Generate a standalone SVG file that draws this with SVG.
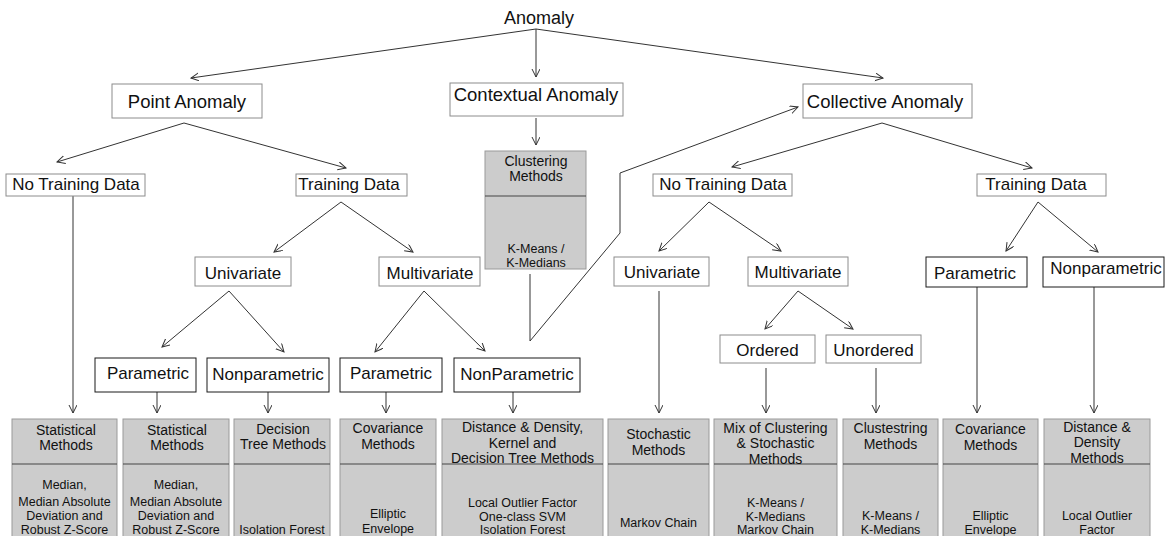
<svg xmlns="http://www.w3.org/2000/svg" width="1169" height="536" viewBox="0 0 1169 536">
<defs>
<marker id="arr" markerUnits="userSpaceOnUse" markerWidth="12" markerHeight="10" refX="8" refY="4" orient="auto">
<path d="M0,0 L8,4 L0,8" fill="none" stroke="#333" stroke-width="1"/>
</marker>
<style>
text{font-family:"Liberation Sans",Arial,sans-serif;fill:#111;text-anchor:middle}
.h0{font-size:18px}
.h1{font-size:18.5px}
.h2{font-size:17px}
.s{font-size:14px}
.m{font-size:12.5px}
.lb{fill:#fff;stroke:#8c8c8c;stroke-width:1}
.db{fill:#fff;stroke:#1a1a1a;stroke-width:1}
.gb{fill:#cccccc;stroke:#9a9a9a;stroke-width:1}
.dv{stroke:#444;stroke-width:1}
.c line,.c polyline{stroke:#333;stroke-width:1;fill:none;marker-end:url(#arr)}
</style>
</defs>
<rect width="1169" height="536" fill="#fff"/>

<g class="c" id="connectors">
<line x1="536" y1="29" x2="191" y2="78"/>
<line x1="536" y1="29" x2="536" y2="77"/>
<line x1="536" y1="29" x2="883" y2="78"/>
<line x1="184" y1="123" x2="57" y2="162"/>
<line x1="184" y1="123" x2="346" y2="168"/>
<line x1="536" y1="118" x2="536" y2="145"/>
<line x1="882" y1="123" x2="732" y2="167"/>
<line x1="882" y1="123" x2="1032" y2="168"/>
<line x1="341" y1="202" x2="274" y2="252"/>
<line x1="341" y1="202" x2="413" y2="252"/>
<line x1="709" y1="202" x2="659" y2="251"/>
<line x1="709" y1="202" x2="781" y2="251"/>
<line x1="1038" y1="202" x2="1006" y2="251"/>
<line x1="1038" y1="202" x2="1098" y2="252"/>
<line x1="229" y1="291" x2="162" y2="347"/>
<line x1="229" y1="291" x2="284" y2="352"/>
<line x1="424" y1="291" x2="375" y2="352"/>
<line x1="424" y1="291" x2="485" y2="351"/>
<line x1="798" y1="291" x2="765" y2="329"/>
<line x1="798" y1="291" x2="853" y2="329"/>
<polyline points="530,274 530,341 620,233 620,173 798,107"/>
<line x1="73" y1="196" x2="73" y2="413"/>
<line x1="157" y1="392" x2="157" y2="413"/>
<line x1="268" y1="392" x2="268" y2="413"/>
<line x1="386" y1="392" x2="386" y2="413"/>
<line x1="513" y1="392" x2="513" y2="413"/>
<line x1="659" y1="291" x2="659" y2="413"/>
<line x1="766" y1="368" x2="766" y2="413"/>
<line x1="876" y1="368" x2="876" y2="413"/>
<line x1="977" y1="287" x2="977" y2="413"/>
<line x1="1094" y1="287" x2="1094" y2="413"/>
</g>

<g id="n-anomaly"><text class="h0" x="539" y="24">Anomaly</text></g>
<g id="n-point"><rect class="lb" x="112" y="84" width="150" height="34"/><text class="h1" x="187" y="108">Point Anomaly</text></g>
<g id="n-contextual"><rect class="lb" x="450" y="83" width="173" height="33"/><text class="h1" x="536" y="101">Contextual Anomaly</text></g>
<g id="n-collective"><rect class="lb" x="803" y="84" width="169" height="34"/><text class="h1" x="885" y="108">Collective Anomaly</text></g>

<g id="n-pt-notrain"><rect class="lb" x="6" y="174" width="139" height="22"/><text class="h2" x="76" y="189.5">No Training Data</text></g>
<g id="n-pt-train"><rect class="lb" x="296" y="174" width="111" height="22"/><text class="h2" x="349" y="189.5">Training Data</text></g>
<g id="n-clustering"><rect class="gb" x="485" y="151" width="101" height="118"/><line class="dv" x1="485" y1="196" x2="586" y2="196"/>
<text class="s" x="536" y="166">Clustering</text><text class="s" x="536" y="181">Methods</text>
<text class="m" x="536" y="252.5">K-Means /</text><text class="m" x="536" y="266.5">K-Medians</text></g>
<g id="n-col-notrain"><rect class="lb" x="653" y="174" width="139" height="22"/><text class="h2" x="723" y="189.5">No Training Data</text></g>
<g id="n-col-train"><rect class="lb" x="977" y="174" width="129" height="22"/><text class="h2" x="1036" y="189.5">Training Data</text></g>

<g id="n-pt-uni"><rect class="lb" x="195" y="257" width="96" height="29"/><text class="h2" x="243" y="279">Univariate</text></g>
<g id="n-pt-multi"><rect class="lb" x="379" y="257" width="101" height="29"/><text class="h2" x="430" y="279">Multivariate</text></g>
<g id="n-col-uni"><rect class="lb" x="614" y="257" width="95" height="29"/><text class="h2" x="662" y="278">Univariate</text></g>
<g id="n-col-multi"><rect class="lb" x="748" y="257" width="100" height="29"/><text class="h2" x="798" y="278">Multivariate</text></g>
<g id="n-col-param"><rect class="db" x="926" y="257" width="101" height="30"/><text class="h2" x="975" y="279">Parametric</text></g>
<g id="n-col-nonparam"><rect class="db" x="1043" y="257" width="121" height="30"/><text class="h2" x="1106" y="274">Nonparametric</text></g>
<g id="n-ordered"><rect class="lb" x="720" y="335" width="95" height="28"/><text class="h2" x="767.5" y="356">Ordered</text></g>
<g id="n-unordered"><rect class="lb" x="826" y="335" width="95" height="28"/><text class="h2" x="873.5" y="356">Unordered</text></g>

<g id="n-pt-param1"><rect class="db" x="95" y="358" width="101" height="34"/><text class="h2" x="148" y="379">Parametric</text></g>
<g id="n-pt-nonparam"><rect class="db" x="207" y="358" width="122" height="34"/><text class="h2" x="268" y="380">Nonparametric</text></g>
<g id="n-pt-param2"><rect class="db" x="340" y="358" width="102" height="34"/><text class="h2" x="391" y="379">Parametric</text></g>
<g id="n-pt-NonParam"><rect class="db" x="454" y="358" width="126" height="34"/><text class="h2" x="517" y="380">NonParametric</text></g>

<g id="b1"><rect class="gb" x="12" y="419" width="105" height="125"/><line class="dv" x1="12" y1="464" x2="117" y2="464"/>
<text class="s" x="66" y="435">Statistical</text><text class="s" x="66" y="450">Methods</text>
<text class="m" x="64.5" y="488.5">Median,</text><text class="m" x="64.5" y="505.5">Median Absolute</text><text class="m" x="64.5" y="519.5">Deviation and</text><text class="m" x="64.5" y="533.5">Robust Z-Score</text></g>
<g id="b2"><rect class="gb" x="123" y="419" width="106" height="125"/><line class="dv" x1="123" y1="464" x2="229" y2="464"/>
<text class="s" x="177" y="435">Statistical</text><text class="s" x="177" y="450">Methods</text>
<text class="m" x="176" y="488.5">Median,</text><text class="m" x="176" y="505.5">Median Absolute</text><text class="m" x="176" y="519.5">Deviation and</text><text class="m" x="176" y="533.5">Robust Z-Score</text></g>
<g id="b3"><rect class="gb" x="234" y="419" width="96" height="125"/><line class="dv" x1="234" y1="464" x2="330" y2="464"/>
<text class="s" x="283" y="434">Decision</text><text class="s" x="283" y="449">Tree Methods</text>
<text class="m" x="282" y="533.5">Isolation Forest</text></g>
<g id="b4"><rect class="gb" x="340" y="419" width="96" height="125"/><line class="dv" x1="340" y1="464" x2="436" y2="464"/>
<text class="s" x="388" y="433">Covariance</text><text class="s" x="388" y="449">Methods</text>
<text class="m" x="388" y="517.5">Elliptic</text><text class="m" x="388" y="532.5">Envelope</text></g>
<g id="b5"><rect class="gb" x="442" y="419" width="161" height="125"/><line class="dv" x1="442" y1="464" x2="603" y2="464"/>
<text class="s" x="522.5" y="432">Distance &amp; Density,</text><text class="s" x="522.5" y="448">Kernel and</text><text class="s" x="522.5" y="463">Decision Tree Methods</text>
<text class="m" x="522.5" y="506.5">Local Outlier Factor</text><text class="m" x="522.5" y="520.5">One-class SVM</text><text class="m" x="522.5" y="533.5">Isolation Forest</text></g>
<g id="b6"><rect class="gb" x="608" y="419" width="101" height="125"/><line class="dv" x1="608" y1="464" x2="709" y2="464"/>
<text class="s" x="658.5" y="439">Stochastic</text><text class="s" x="658.5" y="455">Methods</text>
<text class="m" x="658.5" y="526.5">Markov Chain</text></g>
<g id="b7"><rect class="gb" x="714" y="419" width="123" height="125"/><line class="dv" x1="714" y1="464" x2="837" y2="464"/>
<text class="s" x="775.5" y="433">Mix of Clustering</text><text class="s" x="775.5" y="448">&amp; Stochastic</text><text class="s" x="775.5" y="464">Methods</text>
<text class="m" x="775.5" y="506.5">K-Means /</text><text class="m" x="775.5" y="520.5">K-Medians</text><text class="m" x="775.5" y="533.5">Markov Chain</text></g>
<g id="b8"><rect class="gb" x="843" y="419" width="95" height="125"/><line class="dv" x1="843" y1="464" x2="938" y2="464"/>
<text class="s" x="890.5" y="433">Clustestring</text><text class="s" x="890.5" y="449">Methods</text>
<text class="m" x="890.5" y="519.5">K-Means /</text><text class="m" x="890.5" y="533.5">K-Medians</text></g>
<g id="b9"><rect class="gb" x="943" y="419" width="95" height="125"/><line class="dv" x1="943" y1="464" x2="1038" y2="464"/>
<text class="s" x="990.5" y="434">Covariance</text><text class="s" x="990.5" y="450">Methods</text>
<text class="m" x="990.5" y="519.5">Elliptic</text><text class="m" x="990.5" y="533.5">Envelope</text></g>
<g id="b10"><rect class="gb" x="1044" y="419" width="106" height="125"/><line class="dv" x1="1044" y1="464" x2="1150" y2="464"/>
<text class="s" x="1097" y="432">Distance &amp;</text><text class="s" x="1097" y="447">Density</text><text class="s" x="1097" y="463">Methods</text>
<text class="m" x="1097" y="519.5">Local Outlier</text><text class="m" x="1097" y="533.5">Factor</text></g>
</svg>
